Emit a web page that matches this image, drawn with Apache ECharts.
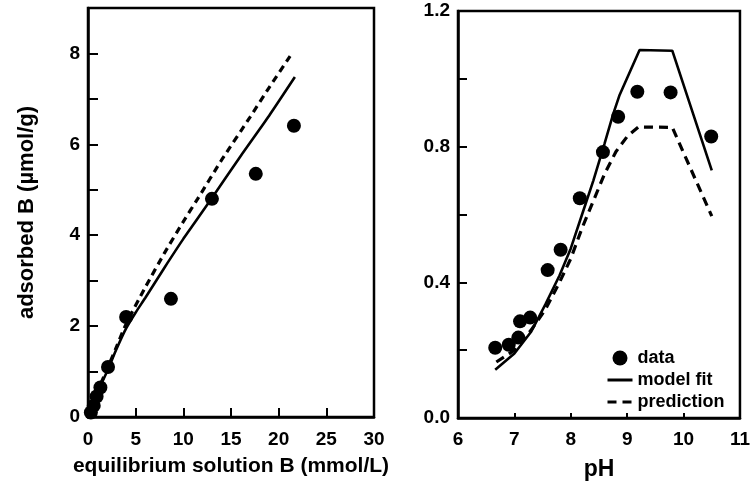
<!DOCTYPE html>
<html>
<head>
<meta charset="utf-8">
<script src="https://cdn.jsdelivr.net/npm/echarts@6/dist/echarts.min.js"></script>
<style>
  html, body { margin: 0; padding: 0; background: #fff; }
  #chart { width: 753px; height: 492px; }
</style>
</head>
<body>
<div id="chart"></div>
<script>
// Left panel: boron adsorption isotherm
const isoDataX = [0.3, 0.6, 0.9, 1.3, 2.1, 4.0, 8.7, 13.0, 17.6, 21.6];
const isoDataY = [0.1, 0.25, 0.45, 0.65, 1.1, 2.2, 2.6, 4.8, 5.35, 6.41];
const isoFitX = [0, 0.5, 1, 2, 3, 4, 5, 6, 8, 10, 13, 16, 19, 21.7];
const isoFitY = [0, 0.3, 0.55, 1.0, 1.5, 1.95, 2.3, 2.62, 3.28, 3.92, 4.82, 5.74, 6.63, 7.48];
const isoPredX = [0, 0.5, 1, 2, 3, 4, 6, 8, 10, 11.5, 14, 17, 19, 21.2];
const isoPredY = [0, 0.3, 0.57, 1.05, 1.55, 2.05, 2.85, 3.6, 4.3, 4.8, 5.65, 6.6, 7.25, 7.94];
const isoXTicks = [0, 5, 10, 15, 20, 25, 30];
const isoYTicks = [0, 1, 2, 3, 4, 5, 6, 7, 8];
const isoYLabels = [0, 2, 4, 6, 8];

// Right panel: boron adsorption envelope vs pH
const phDataX = [6.66, 6.9, 7.07, 7.1, 7.28, 7.59, 7.82, 8.16, 8.57, 8.84, 9.18, 9.77, 10.49];
const phDataY = [0.207, 0.216, 0.237, 0.285, 0.296, 0.436, 0.496, 0.648, 0.784, 0.888, 0.962, 0.96, 0.83];
const phFitX = [6.66, 7.0, 7.3, 7.55, 7.8, 8.0, 8.2, 8.4, 8.6, 8.75, 8.86, 9.22, 9.8, 10.5];
const phFitY = [0.142, 0.19, 0.255, 0.335, 0.42, 0.5, 0.6, 0.7, 0.81, 0.895, 0.95, 1.085, 1.083, 0.73];
const phPredX = [6.68, 7.0, 7.3, 7.55, 7.8, 8.0, 8.2, 8.4, 8.6, 8.8, 9.0, 9.2, 9.8, 10.5];
const phPredY = [0.165, 0.2, 0.26, 0.32, 0.4, 0.47, 0.56, 0.64, 0.72, 0.785, 0.83, 0.858, 0.857, 0.595];
const phXTicks = [6, 7, 8, 9, 10, 11];
const phYTicks = [0, 0.2, 0.4, 0.6, 0.8, 1.0, 1.2];
const phYLabels = [0, 0.4, 0.8, 1.2];

const zip = (xs, ys) => xs.map((x, i) => [x, ys[i]]);

const FONT = '"Liberation Sans", Arial, Helvetica, sans-serif';
const tickFont = { color: '#000', fontFamily: FONT, fontWeight: 'bold', fontSize: 19 };
const nameFont = { color: '#000', fontFamily: FONT, fontWeight: 'bold', fontSize: 21 };
const frame = { show: true, borderColor: '#000', borderWidth: 2.5, backgroundColor: 'transparent' };
const axisLine = { show: true, lineStyle: { color: '#000', width: 2.5 } };
const hiddenMarker = { color: 'rgba(0,0,0,0)', borderWidth: 0, opacity: 0 };

const chart = echarts.init(document.getElementById('chart'), null, { renderer: 'canvas' });

chart.setOption({
  backgroundColor: '#fff',
  animation: false,
  grid: [
    Object.assign({ left: 88, right: 379, top: 8, bottom: 75 }, frame),
    Object.assign({ left: 458, right: 5, top: 11, bottom: 74 }, frame)
  ],
  legend: {
    data: [
      { name: 'data' },
      { name: 'model fit', itemStyle: hiddenMarker },
      { name: 'prediction', itemStyle: hiddenMarker }
    ],
    orient: 'vertical',
    left: 601,
    top: 344,
    itemWidth: 25,
    itemHeight: 15,
    itemGap: 4,
    lineStyle: { width: 3 },
    textStyle: { color: '#000', fontFamily: FONT, fontWeight: 'bold', fontSize: 18 },
    selectedMode: false
  },
  xAxis: [
    {
      type: 'value', gridIndex: 0, min: 0, max: 30, interval: 5,
      name: 'equilibrium solution B (mmol/L)', nameLocation: 'middle', nameGap: 39,
      nameTextStyle: nameFont,
      axisLine: axisLine,
      axisTick: { show: true, inside: true, length: 9, lineStyle: { color: '#000', width: 2 }, customValues: isoXTicks },
      axisLabel: Object.assign({ margin: 13, customValues: isoXTicks }, tickFont),
      splitLine: { show: false }
    },
    {
      type: 'value', gridIndex: 1, min: 6, max: 11, interval: 1,
      name: 'pH', nameLocation: 'middle', nameGap: 40,
      nameTextStyle: Object.assign({}, nameFont, { fontSize: 23 }),
      axisLine: axisLine,
      axisTick: { show: true, inside: true, length: 5, lineStyle: { color: '#000', width: 2 }, customValues: phXTicks },
      axisLabel: Object.assign({ margin: 12, customValues: phXTicks }, tickFont),
      splitLine: { show: false }
    }
  ],
  yAxis: [
    {
      type: 'value', gridIndex: 0, min: 0, max: 9, interval: 2,
      name: 'adsorbed B (\u00b5mol/g)', nameLocation: 'middle', nameGap: 50, nameRotate: 90,
      nameTextStyle: Object.assign({}, nameFont, { fontSize: 22 }),
      axisLine: axisLine,
      axisTick: { show: true, inside: true, length: 10, lineStyle: { color: '#000', width: 2 }, customValues: isoYTicks },
      axisLabel: Object.assign({ margin: 8, customValues: isoYLabels }, tickFont),
      splitLine: { show: false }
    },
    {
      type: 'value', gridIndex: 1, min: 0, max: 1.2, interval: 0.4,
      axisLine: axisLine,
      axisTick: { show: true, inside: true, length: 9, lineStyle: { color: '#000', width: 2 }, customValues: phYTicks },
      axisLabel: Object.assign({ margin: 8, customValues: phYLabels, formatter: v => v.toFixed(1) }, tickFont),
      splitLine: { show: false }
    }
  ],
  series: [
    {
      name: 'isotherm model fit', type: 'line', xAxisIndex: 0, yAxisIndex: 0,
      data: zip(isoFitX, isoFitY), showSymbol: false, symbol: 'none', smooth: 0.2,
      itemStyle: { color: '#000' },
      lineStyle: { color: '#000', width: 2.6 }
    },
    {
      name: 'isotherm prediction', type: 'line', xAxisIndex: 0, yAxisIndex: 0,
      data: zip(isoPredX, isoPredY), showSymbol: false, symbol: 'none', smooth: 0.2,
      itemStyle: { color: '#000' },
      lineStyle: { color: '#000', width: 3.2, type: [7, 5] }
    },
    {
      name: 'isotherm data', type: 'scatter', xAxisIndex: 0, yAxisIndex: 0,
      data: zip(isoDataX, isoDataY), symbol: 'circle', symbolSize: 14,
      itemStyle: { color: '#000', opacity: 1 }
    },
    {
      name: 'model fit', type: 'line', xAxisIndex: 1, yAxisIndex: 1,
      data: zip(phFitX, phFitY), showSymbol: false, symbol: 'none',
      itemStyle: { color: '#000' },
      lineStyle: { color: '#000', width: 2.6 }
    },
    {
      name: 'prediction', type: 'line', xAxisIndex: 1, yAxisIndex: 1,
      data: zip(phPredX, phPredY), showSymbol: false, symbol: 'none',
      itemStyle: { color: '#000' },
      lineStyle: { color: '#000', width: 3.2, type: [9, 6] }
    },
    {
      name: 'data', type: 'scatter', xAxisIndex: 1, yAxisIndex: 1,
      data: zip(phDataX, phDataY), symbol: 'circle', symbolSize: 14,
      itemStyle: { color: '#000', opacity: 1 }
    }
  ]
});
</script>
</body>
</html>
